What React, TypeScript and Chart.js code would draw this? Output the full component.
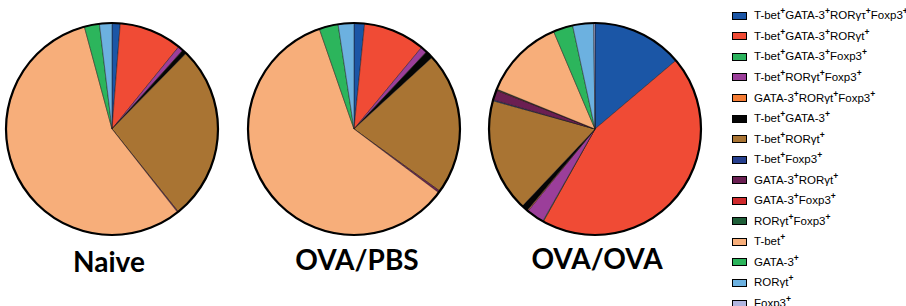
import React, { useEffect, useRef } from "react";
import { Chart, registerables } from "chart.js";

Chart.register(...registerables);

// ---- data ----
const categories: string[] = [
  "T-bet+GATA-3+RORγτ+Foxp3+",
  "T-bet+GATA-3+RORγt+",
  "T-bet+GATA-3+Foxp3+",
  "T-bet+RORγt+Foxp3+",
  "GATA-3+RORγt+Foxp3+",
  "T-bet+GATA-3+",
  "T-bet+RORγt+",
  "T-bet+Foxp3+",
  "GATA-3+RORγt+",
  "GATA-3+Foxp3+",
  "RORγt+Foxp3+",
  "T-bet+",
  "GATA-3+",
  "RORγt+",
  "Foxp3+",
];

const groupNames: string[] = ["Naive", "OVA/PBS", "OVA/OVA"];

const naiveValues: number[] = [1.25, 9.6, 0, 0.8, 0, 0.7, 26.9, 0, 0.15, 0, 0, 56.4, 2.3, 1.9, 0];
const ovaPbsValues: number[] = [1.6, 9.4, 0, 1.0, 0, 1.2, 21.75, 0, 0.3, 0, 0, 59.4, 2.9, 2.4, 0];
const ovaOvaValues: number[] = [13.85, 44.4, 0.1, 2.7, 0.15, 1.0, 17.3, 0.15, 1.5, 0.1, 0.1, 12.5, 3.0, 3.2, 0.2];

const colors: string[] = [
  "#1b56a6",
  "#f04b35",
  "#2bb35d",
  "#9b3e9a",
  "#f47c34",
  "#050505",
  "#a97433",
  "#263f8e",
  "#6b1f52",
  "#cf2a2c",
  "#1e5e38",
  "#f7ae7a",
  "#2cb55c",
  "#6cb1e0",
  "#b0b5df",
];

const seriesValues: number[][] = [naiveValues, ovaPbsValues, ovaOvaValues];

// ---- layout (styling only) ----
const pieCenters = [
  { x: 112, y: 129 },
  { x: 353.5, y: 129 },
  { x: 594.5, y: 129 },
];
const labelCenters = [
  { x: 109, baseline: 272 },
  { x: 357, baseline: 270 },
  { x: 597, baseline: 269 },
];
const PIE_RADIUS = 106;
const CANVAS = 224;

const outlinePlugin = {
  id: "outline",
  afterDatasetsDraw(chart: any) {
    const meta = chart.getDatasetMeta(0);
    const arc = meta.data[0];
    if (!arc) return;
    const { x, y, outerRadius } = arc as any;
    const ctx = chart.ctx;
    ctx.save();
    ctx.beginPath();
    ctx.arc(x, y, outerRadius, 0, Math.PI * 2);
    ctx.lineWidth = 2.2;
    ctx.strokeStyle = "#000";
    ctx.stroke();
    ctx.restore();
  },
};

function Pie({ values, left, top }: { values: number[]; left: number; top: number }) {
  const ref = useRef<HTMLCanvasElement | null>(null);
  useEffect(() => {
    if (!ref.current) return;
    const chart = new Chart(ref.current, {
      type: "pie",
      data: {
        labels: categories,
        datasets: [
          {
            data: values,
            backgroundColor: colors,
            borderColor: "rgba(30,20,20,0.75)",
            borderWidth: 0.6,
            radius: PIE_RADIUS,
          } as any,
        ],
      },
      options: {
        responsive: false,
        maintainAspectRatio: false,
        animation: false,
        layout: { padding: 0 },
        plugins: {
          legend: { display: false },
          tooltip: { enabled: false },
          title: { display: false },
        },
      },
      plugins: [outlinePlugin],
    });
    return () => chart.destroy();
  }, [values]);
  return (
    <canvas
      ref={ref}
      width={CANVAS}
      height={CANVAS}
      style={{ position: "absolute", left, top, width: CANVAS, height: CANVAS }}
    />
  );
}

function LegendText({ text }: { text: string }) {
  const parts = text.split("+");
  const out: React.ReactNode[] = [];
  parts.forEach((p, i) => {
    if (p) out.push(<span key={"t" + i}>{p}</span>);
    if (i < parts.length - 1)
      out.push(
        <span
          key={"s" + i}
          style={{ fontSize: "8.5px", position: "relative", top: "-5px", fontWeight: 700 }}
        >
          +
        </span>
      );
  });
  return <>{out}</>;
}

export default function App() {
  return (
    <div
      style={{
        position: "absolute",
        left: 0,
        top: 0,
        width: 906,
        height: 306,
        background: "#ffffff",
        overflow: "hidden",
      }}
    >
      {seriesValues.map((vals, i) => (
        <Pie
          key={groupNames[i]}
          values={vals}
          left={pieCenters[i].x - CANVAS / 2}
          top={pieCenters[i].y - CANVAS / 2}
        />
      ))}
      {groupNames.map((name, i) => (
        <div
          key={name}
          style={{
            position: "absolute",
            left: labelCenters[i].x - 100,
            top: labelCenters[i].baseline - 24.8,
            width: 200,
            textAlign: "center",
            fontFamily: "Lato, 'Open Sans', sans-serif",
            fontWeight: 700,
            fontSize: "28px",
            lineHeight: "28px",
            color: "#000",
          }}
        >
          {name}
        </div>
      ))}
      {categories.map((c, i) => (
        <div
          key={c}
          style={{
            position: "absolute",
            left: 732,
            top: 15.8 + i * 20.55 - 8,
            height: 16,
            display: "flex",
            alignItems: "center",
            whiteSpace: "nowrap",
            fontFamily: "'Liberation Sans', Arial, sans-serif",
            fontSize: "11.5px",
            color: "#000",
          }}
        >
          <span
            style={{
              display: "inline-block",
              width: 15,
              height: 8,
              boxSizing: "border-box",
              border: "1.6px solid #000",
              background: colors[i],
              marginRight: 7,
            }}
          />
          <span style={{ lineHeight: "16px" }}>
            <LegendText text={c} />
          </span>
        </div>
      ))}
    </div>
  );
}
